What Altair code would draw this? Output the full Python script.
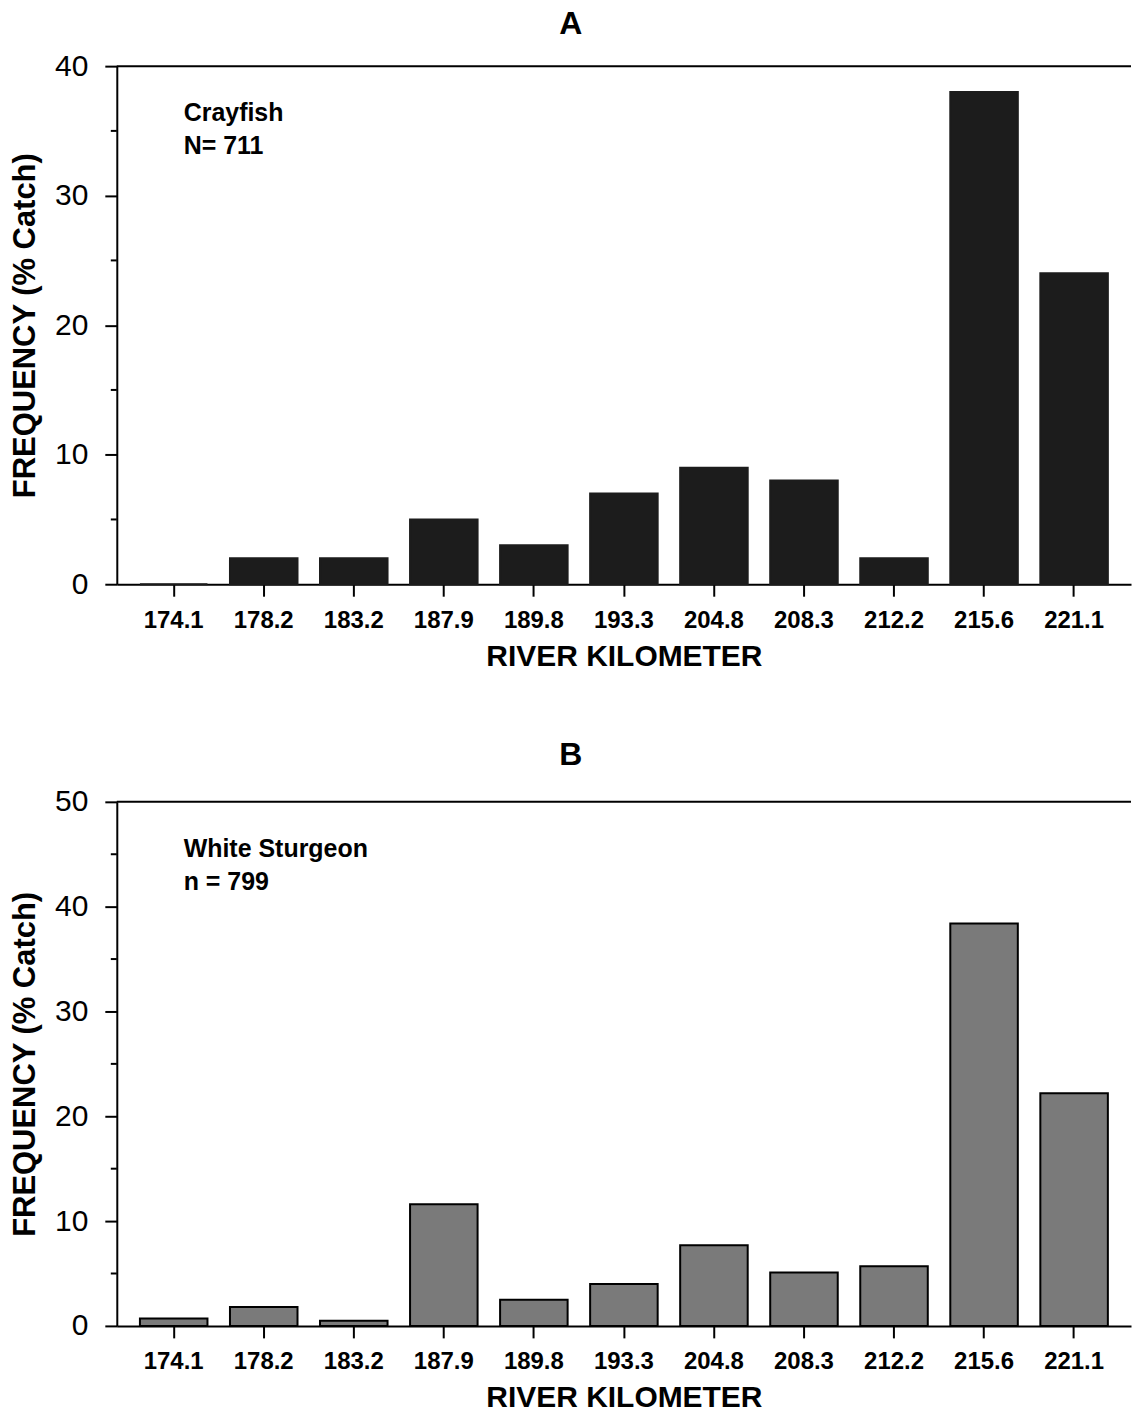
import altair as alt
import pandas as pd

# ---- data ----
river_km = ["174.1", "178.2", "183.2", "187.9", "189.8", "193.3",
            "204.8", "208.3", "212.2", "215.6", "221.1"]
crayfish_pct = [0.0, 2.0, 2.0, 5.0, 3.0, 7.0, 9.0, 8.0, 2.0, 38.0, 24.0]
sturgeon_pct = [0.7, 1.8, 0.5, 11.6, 2.5, 4.0, 7.7, 5.1, 5.7, 38.4, 22.2]

crayfish_note = ["Crayfish", "N= 711"]
sturgeon_note = ["White Sturgeon", "n = 799"]

top_ticks = [0, 10, 20, 30, 40]
top_minor = [5, 15, 25, 35]
bot_ticks = [0, 10, 20, 30, 40, 50]
bot_minor = [5, 15, 25, 35, 45]

FONT = "Liberation Sans"
W = 1016

df_top = pd.DataFrame({"rkm": river_km, "pct": crayfish_pct})
df_bot = pd.DataFrame({"rkm": river_km, "pct": sturgeon_pct})

xscale = alt.Scale(domain=river_km, paddingInner=0.25, paddingOuter=0.257)


def xaxis():
    return alt.Axis(title="RIVER KILOMETER", labelAngle=0, labelFontSize=24,
                    labelFontWeight="bold", labelFont=FONT, labelColor="black",
                    labelPadding=12, tickSize=12, tickWidth=2, tickColor="black",
                    domainWidth=2, domainColor="black", titleFontSize=30,
                    titleFontWeight="bold", titleFont=FONT, titleColor="black",
                    titlePadding=9, grid=False)


def yaxis(vals):
    return alt.Axis(title="FREQUENCY (% Catch)", values=vals, labelFontSize=30,
                    labelFont=FONT, labelColor="black", labelPadding=17,
                    tickSize=12, tickWidth=2, tickColor="black", domainWidth=2,
                    domainColor="black", titleFontSize=31, titleFontWeight="bold",
                    titleFont=FONT, titleColor="black", titlePadding=13, grid=False)


def panel(df, ymax, ticks, minor, note, fill, stroke, title, H, toff):
    yscale = alt.Scale(domain=[0, ymax], nice=False)
    bars = alt.Chart(df).mark_bar(fill=fill, stroke=stroke, strokeWidth=2).encode(
        x=alt.X("rkm:N", sort=river_km, scale=xscale, axis=xaxis()),
        y=alt.Y("pct:Q", scale=yscale, axis=yaxis(ticks)),
    )
    minor_ticks = alt.Chart(pd.DataFrame({"v": minor})).mark_rule(
        color="black", strokeWidth=2).encode(
        y=alt.Y("v:Q", scale=yscale),
        x=alt.value(-6), x2=alt.value(0),
    )
    top_line = alt.Chart(pd.DataFrame({"v": [ymax]})).mark_rule(
        color="black", strokeWidth=2).encode(
        y=alt.Y("v:Q", scale=yscale),
        x=alt.value(0), x2=alt.value(W),
    )
    text = alt.Chart(pd.DataFrame({"t": ["\n".join(note)]})).mark_text(
        align="left", baseline="alphabetic", fontSize=25, fontWeight="bold",
        font=FONT, color="black", lineBreak="\n", lineHeight=33).encode(
        text="t:N", x=alt.value(67), y=alt.value(55),
    )
    return alt.layer(bars, minor_ticks, top_line, text).properties(
        width=W, height=H,
        title=alt.Title(title, fontSize=32, fontWeight="bold", font=FONT,
                        color="black", anchor="middle", frame="bounds", offset=toff),
    )


top = panel(df_top, 40, top_ticks, top_minor, crayfish_note, "#1c1c1c", "#1c1c1c", "A", 519, 10)
bot = panel(df_bot, 50, bot_ticks, bot_minor, sturgeon_note, "#7a7a7a", "black", "B", 525, 15)

chart = alt.vconcat(top, bot, spacing=68).properties(
    padding={"left": 9, "top": 7, "right": 0, "bottom": 0},
    background="white",
).configure_view(stroke=None)

chart.save("out.html", embed_options={"renderer": "svg", "actions": False})
